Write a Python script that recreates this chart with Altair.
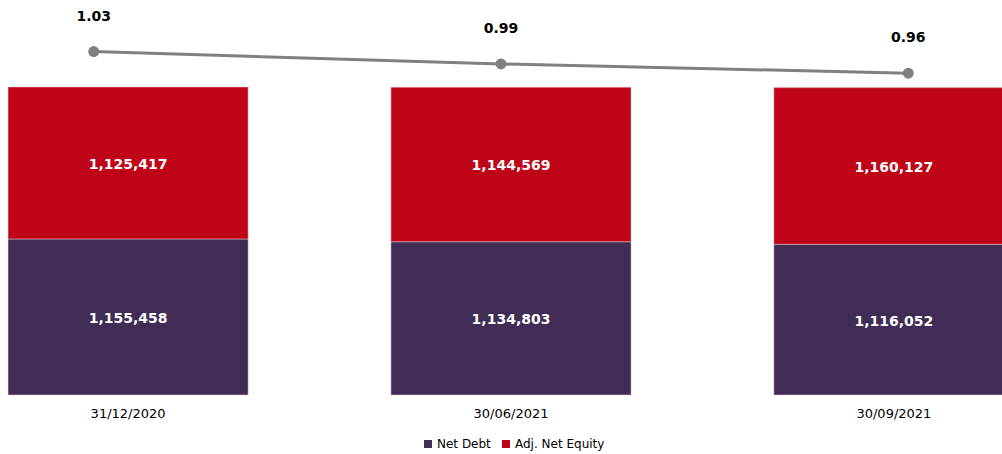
import altair as alt
import pandas as pd

dates = ["31/12/2020", "30/06/2021", "30/09/2021"]
net_debt = [1155458, 1134803, 1116052]
adj_net_equity = [1125417, 1144569, 1160127]
ratio = [1.03, 0.99, 0.96]
series = ["Net Debt", "Adj. Net Equity"]
colors = ["#412C55", "#C00418"]

rows = []
for d, nd, ne in zip(dates, net_debt, adj_net_equity):
    rows.append({"date": d, "series": series[0], "value": nd, "ord": 0})
    rows.append({"date": d, "series": series[1], "value": ne, "ord": 1})
bars_df = pd.DataFrame(rows)
line_df = pd.DataFrame({"date": dates, "ratio": ratio})

FONT = "DejaVu Sans"

band_scale = alt.Scale(range=[0, 1022], paddingInner=0.373, paddingOuter=0.021)
y_scale = alt.Scale(domain=[0, 2925000], nice=False, zero=True)

x_band = alt.X("date:N", sort=dates, title=None, scale=band_scale,
               axis=alt.Axis(labelAngle=0, ticks=False, domain=False,
                             labelFontSize=13, labelColor="#000000", labelFont=FONT,
                             labelPadding=12))

bars = alt.Chart(bars_df).mark_bar(stroke="#E8C8CC", strokeWidth=0.5).encode(
    x=x_band,
    y=alt.Y("value:Q", stack="zero", title=None, scale=y_scale, axis=None),
    color=alt.Color("series:N", scale=alt.Scale(domain=series, range=colors),
                    legend=alt.Legend(title=None, orient="none", direction="horizontal",
                                      legendX=422, legendY=438,
                                      symbolType="square", symbolSize=64, labelFontSize=12,
                                      labelFont=FONT, labelColor="#000000", labelOffset=3,
                                      columnPadding=9, symbolStrokeWidth=0)),
    order=alt.Order("ord:Q", sort="ascending"),
)

bar_text = alt.Chart(bars_df).transform_stack(
    stack="value", groupby=["date"], as_=["v0", "v1"], sort=[alt.SortField("ord", order="ascending")]
).transform_calculate(mid="(datum.v0 + datum.v1) / 2").mark_text(
    color="white", fontWeight="bold", fontSize=14, font=FONT, dy=2
).encode(
    x=alt.X("date:N", sort=dates, title=None, scale=band_scale),
    y=alt.Y("mid:Q", scale=y_scale, axis=None),
    text=alt.Text("value:Q", format=",.0f"),
)

x_point = alt.X("date:N", sort=dates, title=None,
                scale=alt.Scale(type="point", padding=0.23), axis=None)
y_line = alt.Y("ratio:Q", title=None,
               scale=alt.Scale(domain=[-0.082, 1.197], nice=False, zero=False), axis=None)

line = alt.Chart(line_df).mark_line(color="#808080", strokeWidth=3).encode(x=x_point, y=y_line)
pts = alt.Chart(line_df).mark_point(filled=True, color="#808080", size=120, opacity=1).encode(x=x_point, y=y_line)
line_text = alt.Chart(line_df).mark_text(fontWeight="bold", fontSize=14, font=FONT, color="#000000", dy=-35).encode(
    x=x_point, y=y_line, text=alt.Text("ratio:Q", format=".2f"))

bar_layer = alt.layer(bars, bar_text)
line_layer = alt.layer(line, pts, line_text)

chart = alt.layer(bar_layer, line_layer).resolve_scale(
    x="independent", y="independent"
).properties(
    width=1002, height=395,
    padding={"left": 0, "top": 0, "right": 0, "bottom": 59},
    autosize=alt.AutoSizeParams(type="none"),
).configure_view(stroke=None)

chart.save("out.html", embed_options={"renderer": "svg", "actions": False})
